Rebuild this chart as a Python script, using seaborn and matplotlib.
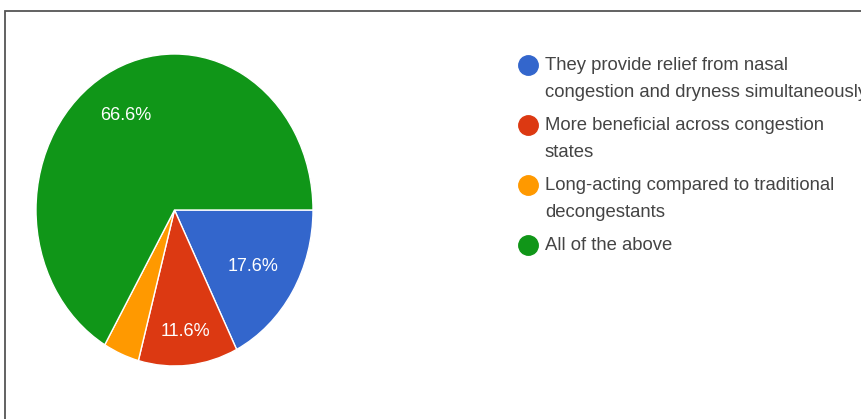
import numpy as np
import matplotlib
matplotlib.use("Agg")
import matplotlib.pyplot as plt
import seaborn as sns
from matplotlib.lines import Line2D
from matplotlib.patches import Rectangle

# data
labels = [
    "They provide relief from nasal\ncongestion and dryness simultaneously",
    "More beneficial across congestion\nstates",
    "Long-acting compared to traditional\ndecongestants",
    "All of the above",
]
shares = [17.6, 11.6, 4.2, 66.6]
colors = ["#3366CC", "#DC3912", "#FF9900", "#109618"]

W, H = 862, 419

sns.set_theme(style="white")
plt.rcParams["font.family"] = ["Liberation Sans", "DejaVu Sans"]

fig = plt.figure(figsize=(W / 100, H / 100), dpi=100)
fig.patch.set_facecolor("white")

# frame of the screenshot box
fig.add_artist(Rectangle((5 / W, -0.1), 1.2, (H - 11) / H + 0.1, transform=fig.transFigure,
                         fill=False, edgecolor="#555555", linewidth=1.3))

# pie (slightly taller than wide, as in the reference)
left, right, top, bottom = 36, 313, 54, 366
ax = fig.add_axes([left / W, (H - bottom) / H, (right - left) / W, (bottom - top) / H])

wedges, _ = ax.pie(
    shares, colors=colors, startangle=0, counterclock=False,
    wedgeprops=dict(edgecolor="white", linewidth=1),
)
ax.set_aspect("auto")
ax.set_xlim(-1, 1)
ax.set_ylim(-1, 1)
ax.axis("off")

# percentage labels inside the slices (small slice left unlabeled)
label_dist = [0.67, 0.77, 0.7, 0.71]
for w, v, d in zip(wedges, shares, label_dist):
    if v < 5:
        continue
    mid = np.deg2rad((w.theta1 + w.theta2) / 2)
    ax.text(d * np.cos(mid), d * np.sin(mid), f"{v:.1f}%", ha="center",
            va="center_baseline", color="white", fontsize=13)

# legend, drawn by hand so the dot sits on the first line
ys = [65, 125, 185, 245]
for lab, col, y in zip(labels, colors, ys):
    fig.add_artist(Line2D([528 / W], [1 - y / H], marker="o", markersize=14,
                          color=col, transform=fig.transFigure))
    fig.text(545 / W, 1 - (y - 8) / H, lab, ha="left", va="top", fontsize=13.3,
             color="#444444", linespacing=1.74, transform=fig.transFigure)

fig.savefig("out.png", dpi=100)
